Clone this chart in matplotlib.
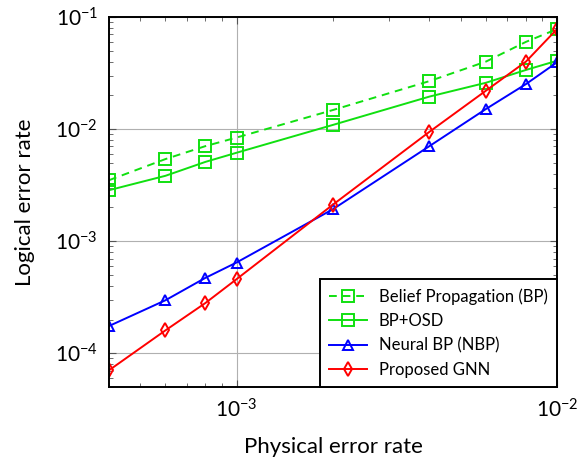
import matplotlib
matplotlib.use("Agg")
import matplotlib.pyplot as plt
from matplotlib.ticker import LogLocator, NullFormatter

# ── Data ────────────────────────────────────────────────────────────────────
p_phys = [4e-4, 6e-4, 8e-4, 1e-3, 2e-3, 4e-3, 6e-3, 8e-3, 1e-2]
ler_bp = [3.5e-3, 5.4e-3, 7.05e-3, 8.4e-3, 1.48e-2, 2.68e-2, 4.0e-2, 6.0e-2, 7.8e-2]
ler_bp_osd = [2.85e-3, 3.83e-3, 5.1e-3, 6.15e-3, 1.09e-2, 1.95e-2, 2.59e-2, 3.37e-2, 4.07e-2]
ler_nbp = [1.75e-4, 2.97e-4, 4.71e-4, 6.45e-4, 1.93e-3, 7.05e-3, 1.51e-2, 2.52e-2, 3.94e-2]
ler_gnn = [7.05e-5, 1.6e-4, 2.81e-4, 4.58e-4, 2.12e-3, 9.46e-3, 2.2e-2, 4.0e-2, 7.8e-2]

labels = ["Belief Propagation (BP)", "BP+OSD", "Neural BP (NBP)", "Proposed GNN"]

plt.rcParams["font.family"] = ["Lato", "DejaVu Sans"]
plt.rcParams["mathtext.fontset"] = "custom"
plt.rcParams["mathtext.rm"] = "Lato"
plt.rcParams["mathtext.it"] = "Lato:italic"

GREEN = "#10e010"

fig = plt.figure(figsize=(5.79, 4.58), dpi=100)
ax = fig.add_axes([109 / 579, 1 - 387 / 458, 448 / 579, 370 / 458])

kw = dict(linewidth=1.4, markerfacecolor="none", markeredgewidth=1.4)
ax.plot(p_phys, ler_bp, linestyle=(0, (4, 3)), color=GREEN, marker="s",
        markersize=9, label=labels[0], **kw)
ax.plot(p_phys, ler_bp_osd, color=GREEN, marker="s", markersize=9,
        label=labels[1], **kw)
ax.plot(p_phys, ler_nbp, color="#0000ff", marker="^", markersize=7.5,
        label=labels[2], **kw)
ax.plot(p_phys, ler_gnn, color="#ff0000", marker="d", markersize=7,
        label=labels[3], **kw)

ax.set_xscale("log")
ax.set_yscale("log")
ax.set_xlim(4e-4, 1e-2)
ax.set_ylim(5e-5, 1e-1)

ax.xaxis.set_major_locator(LogLocator(base=10, numticks=10))
ax.yaxis.set_major_locator(LogLocator(base=10, numticks=10))
ax.xaxis.set_minor_locator(LogLocator(base=10, subs=range(2, 10), numticks=10))
ax.yaxis.set_minor_locator(LogLocator(base=10, subs=range(2, 10), numticks=10))
ax.xaxis.set_minor_formatter(NullFormatter())
ax.yaxis.set_minor_formatter(NullFormatter())

ax.grid(True, which="major", color="#b0b0b0", linewidth=0.8)
ax.set_axisbelow(True)
ax.tick_params(which="both", direction="in", top=True, right=True,
               color="#555555", labelsize=15)
ax.tick_params(which="major", length=5, width=0.8, pad=8)
ax.tick_params(which="minor", length=3, width=0.6)
for s in ax.spines.values():
    s.set_linewidth(1.4)

ax.set_xlabel("Physical error rate", fontsize=16, labelpad=11)
ax.set_ylabel("Logical error rate", fontsize=16, labelpad=14)

leg = ax.legend(loc="lower right", fontsize=12, frameon=True, fancybox=False,
                edgecolor="black", framealpha=1, borderaxespad=0,
                handlelength=2.3, handletextpad=0.7, labelspacing=0.5,
                borderpad=0.55)
leg.get_frame().set_linewidth(1.4)

fig.savefig("out.png", dpi=100)
